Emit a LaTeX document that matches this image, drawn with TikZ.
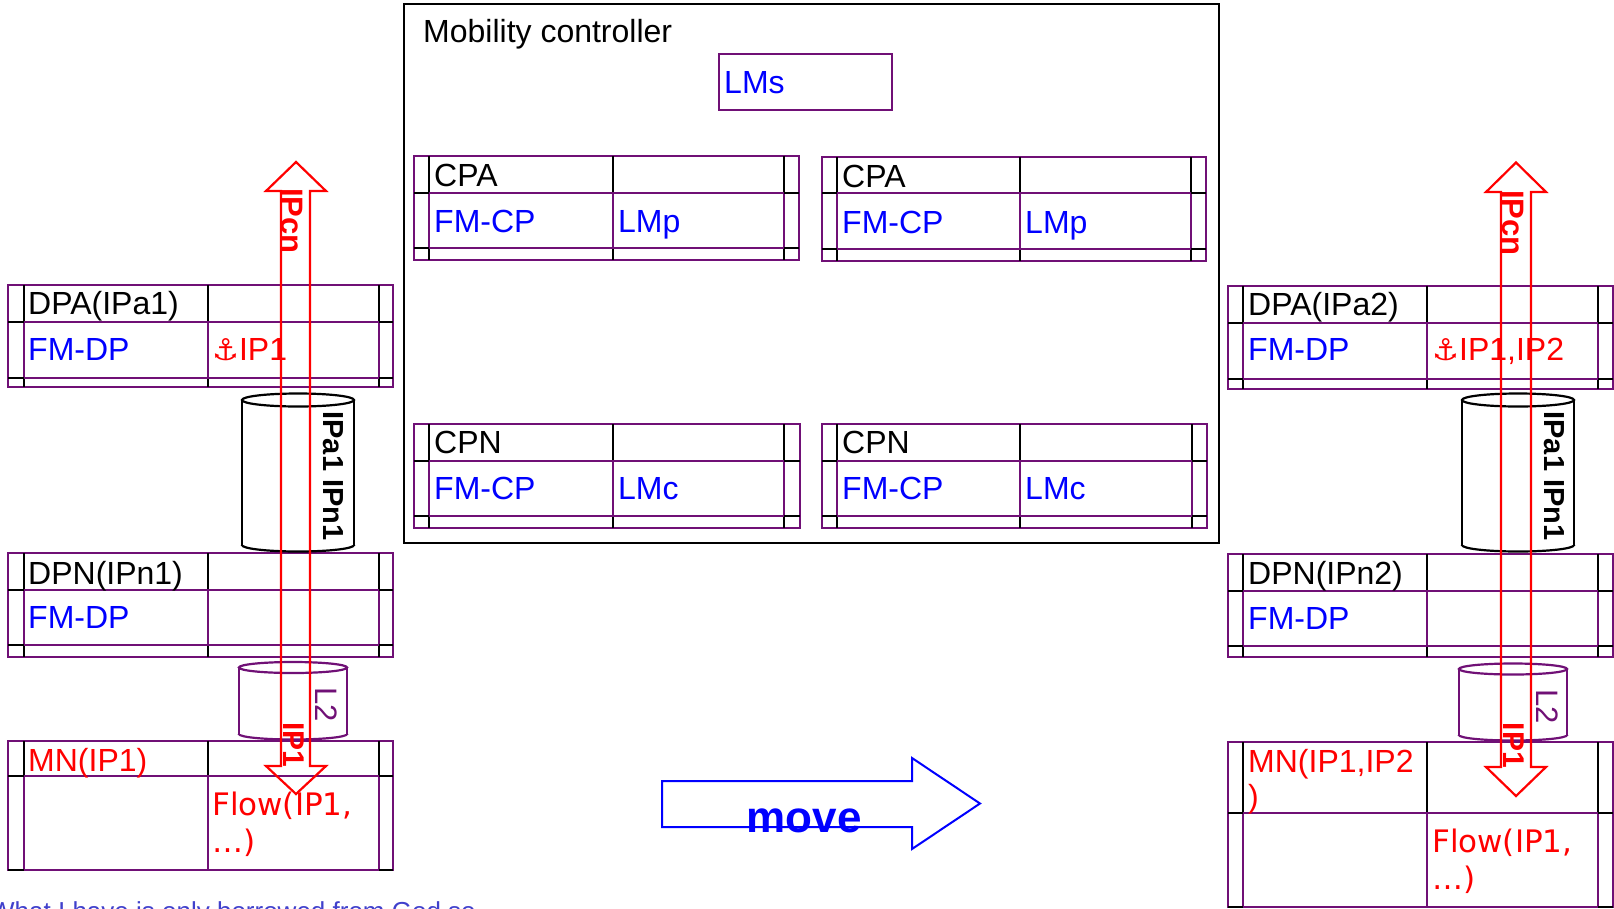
\documentclass[tikz,border=0pt]{standalone}
\usepackage{fontspec}
\setmainfont{Liberation Sans}
\newfontfamily\symfont{DejaVu Sans}
\definecolor{pur}{RGB}{112,16,118}
\definecolor{mblue}{RGB}{0,0,255}
\definecolor{mred}{RGB}{255,0,0}
\definecolor{quotec}{RGB}{64,64,204}
\newcommand\lotable[9]{%
  \draw[pline] (#1,#6) rectangle (#5,#9);
  \foreach \xx in {#2,#3,#4} {
    \draw[bline] (\xx,#6) -- (\xx,#7);
    \draw[pline] (\xx,#7) -- (\xx,#8);
    \draw[bline] (\xx,#8) -- (\xx,#9);
  }
  \foreach \yy in {#7,#8} {
    \draw[bline] (#1,\yy) -- (#2,\yy);
    \draw[pline] (#2,\yy) -- (#4,\yy);
    \draw[bline] (#4,\yy) -- (#5,\yy);
  }
}
\newcommand\locyl[6]{% cx rx ytop ybot ry color
  \fill[white] (#1,#4) ellipse (#2 and #5);
  \fill[white] (#1-#2,#3) rectangle (#1+#2,#4);
  \draw[#6, line width=2.2pt] (#1-#2,#3) -- (#1-#2,#4);
  \draw[#6, line width=2.2pt] (#1+#2,#3) -- (#1+#2,#4);
  \draw[#6, line width=2.2pt, fill=white] (#1,#3) ellipse (#2 and #5);
  \begin{scope}
    \clip (#1-#2-3,#4) rectangle (#1+#2+3,#4+#5+4);
    \draw[#6, line width=2.2pt] (#1,#4) ellipse (#2 and #5);
  \end{scope}
}
\begin{document}
\begin{tikzpicture}[x=1pt,y=-1pt,
  pline/.style={draw=pur, line width=2.3pt},
  bline/.style={draw=black, line width=2.3pt},
  lbl/.style={anchor=base west, inner sep=0pt, font=\fontsize{32}{38}\selectfont},
  tblack/.style={lbl, text=black},
  tblue/.style={lbl, text=mblue},
  tred/.style={lbl, text=mred},
  tflow/.style={tred, font=\symfont\fontsize{31}{37}\selectfont},
  vlab/.style={rotate=-90, inner sep=0pt, anchor=center},
  redarrow/.style={draw=mred, line width=2.2pt, line join=miter},
]
\path[use as bounding box] (0,0) rectangle (1614,908);
\clip (0,0) rectangle (1614,908);
\fill[white] (0,0) rectangle (1614,908);

% Mobility controller
\draw[black, line width=2.5pt] (404,4) rectangle (1219,543);
\node[tblack] (mc) at (423,42) {Mobility controller};
\draw[pline] (719,54) rectangle (892,110);
\node[tblue] (lms) at (724,93) {LMs};

% controller tables
\lotable{414}{429}{613}{784}{799}{156}{193}{248}{260}
\node[tblack] (cpa1) at (434,186) {CPA};
\node[tblue] (fmcp1) at (434,232) {FM-CP};
\node[tblue] (lmp1) at (618,232) {LMp};

\lotable{822}{837}{1020}{1191}{1206}{157}{193}{249}{261}
\node[tblack] (cpa2) at (842,187) {CPA};
\node[tblue] (fmcp2) at (842,233) {FM-CP};
\node[tblue] (lmp2) at (1025,233) {LMp};

\lotable{414}{429}{613}{784}{800}{424}{461}{516}{528}
\node[tblack] (cpn1) at (434,453) {CPN};
\node[tblue] (fmcp3) at (434,499) {FM-CP};
\node[tblue] (lmc1) at (618,499) {LMc};

\lotable{822}{837}{1020}{1192}{1207}{424}{461}{516}{528}
\node[tblack] (cpn2) at (842,453) {CPN};
\node[tblue] (fmcp4) at (842,499) {FM-CP};
\node[tblue] (lmc2) at (1025,499) {LMc};

% left side
\lotable{8}{24}{208}{379}{393}{285}{322}{378}{387}
\node[tblack] (dpa1) at (28,314) {DPA(IPa1)};
\node[tblue] (fmdp1) at (28,360) {FM-DP};
\node[tred] (anc1) at (212,360) {{\symfont\fontsize{30}{36}\selectfont ⚓}IP1};

\lotable{8}{24}{208}{379}{393}{553}{590}{645}{657}
\node[tblack] (dpn1) at (28,584) {DPN(IPn1)};
\node[tblue] (fmdp2) at (28,628) {FM-DP};

\lotable{8}{24}{208}{379}{393}{741}{776}{870}{870}
\node[tred] (mn1) at (28,771) {MN(IP1)};
\node[tflow] (flow1a) at (212,815) {Flow(IP1,};
\node[tflow] (flow1b) at (212,852) {…)};

% right side
\lotable{1228}{1243}{1427}{1598}{1613}{286}{323}{379}{389}
\node[tblack] (dpa2) at (1248,315) {DPA(IPa2)};
\node[tblue] (fmdp3) at (1248,360) {FM-DP};
\node[tred] (anc2) at (1432,360) {{\symfont\fontsize{30}{36}\selectfont ⚓}IP1,IP2};

\lotable{1228}{1243}{1427}{1598}{1613}{554}{591}{646}{657}
\node[tblack] (dpn2) at (1248,584) {DPN(IPn2)};
\node[tblue] (fmdp4) at (1248,629) {FM-DP};

\lotable{1228}{1243}{1427}{1598}{1613}{742}{813}{907}{907}
\node[tred] (mn2a) at (1248,772) {MN(IP1,IP2};
\node[tred] (mn2b) at (1248,807) {)};
\node[tflow] (flow2a) at (1432,852) {Flow(IP1,};
\node[tflow] (flow2b) at (1432,889) {…)};

% cylinders
\locyl{298}{56}{400}{545}{6.5}{black}
\locyl{1518}{56}{400}{545}{6.5}{black}
\locyl{293}{54}{667.5}{734}{5.5}{pur}
\locyl{1513}{54}{669}{735}{5.5}{pur}
\node[vlab, font=\bfseries\fontsize{29}{35}\selectfont] (ipan1) at (333,476) {IPa1 IPn1};
\node[vlab, font=\bfseries\fontsize{29}{35}\selectfont] (ipan2) at (1554.5,476) {IPa1 IPn1};
\node[vlab, text=pur, font=\fontsize{31}{37}\selectfont] (l2a) at (326.5,704.5) {L2};
\node[vlab, text=pur, font=\fontsize{31}{37}\selectfont] (l2b) at (1547.5,706.5) {L2};

% red double block arrows
\draw[redarrow] (296,162) -- (326,191) -- (310,191) -- (310,766) -- (326,766) -- (296,794) -- (266,766) -- (281,766) -- (281,191) -- (266,191) -- cycle;
\draw[redarrow] (1516,162.5) -- (1546,192) -- (1531,192) -- (1531,767) -- (1546,767) -- (1516,796) -- (1486,767) -- (1501,767) -- (1501,192) -- (1486,192) -- cycle;
\node[vlab, text=mred, font=\bfseries\fontsize{31}{37}\selectfont] (ipcn1) at (292.5,221) {IPcn};
\node[vlab, text=mred, font=\bfseries\fontsize{31}{37}\selectfont] (ipcn2) at (1513,223) {IPcn};
\node[vlab, text=mred, font=\bfseries\fontsize{30}{36}\selectfont] (ip1a) at (294,745) {IP1};
\node[vlab, text=mred, font=\bfseries\fontsize{30}{36}\selectfont] (ip1b) at (1514,745.5) {IP1};

% move arrow
\draw[mblue, line width=2pt, line join=miter] (662,781) -- (912,781) -- (912,758) -- (980,803.5) -- (912,849) -- (912,827) -- (662,827) -- cycle;
\node[anchor=base, inner sep=0pt, text=mblue, font=\bfseries\fontsize{44}{50}\selectfont] (move) at (804,832) {move};

% bottom quote (cut by the frame, as in the reference)
\node[anchor=base west, inner sep=0pt, text=quotec, font=\fontsize{26}{31}\selectfont] (quote) at (-10,920) {What I have is only borrowed from God so};
\end{tikzpicture}
\end{document}
